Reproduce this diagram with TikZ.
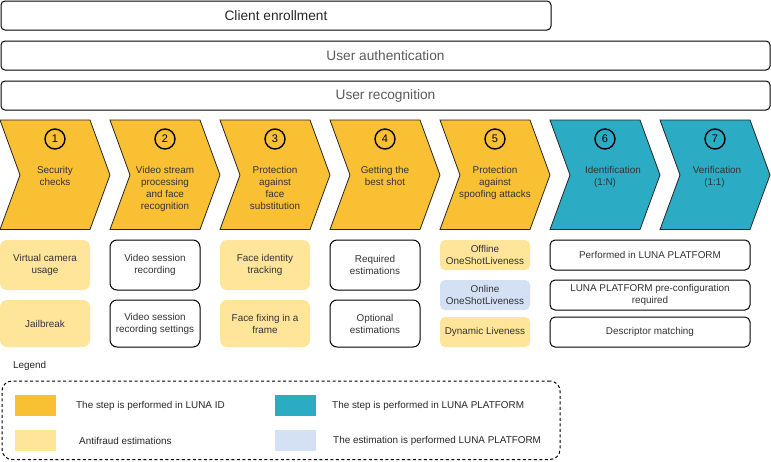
\documentclass[tikz,border=0pt]{standalone}
\usepackage{fontspec}
\setmainfont{Liberation Sans}
\definecolor{lunaid}{HTML}{F9C034}
\definecolor{lunapf}{HTML}{2BACC4}
\definecolor{antif}{HTML}{FFE599}
\definecolor{pfest}{HTML}{D4E1F5}
\definecolor{txt}{HTML}{333333}
\definecolor{bartxt}{HTML}{5A5A5A}
\begin{document}
\begin{tikzpicture}[x=1pt,y=-1pt,
  bar/.style={draw=black, line width=1pt, rounded corners=4pt, inner sep=0pt,
    minimum height=29pt, font=\fontsize{13.7}{16}\selectfont},
  chev/.style={draw=black!85, line width=0.8pt},
  num/.style={circle, draw=black, line width=1.4pt, minimum size=20pt, inner sep=0pt,
    font=\fontsize{11}{11}\selectfont},
  steptext/.style={anchor=north, inner sep=0pt, align=center, text=txt,
    font=\fontsize{9.9}{12}\selectfont},
  abox/.style={rounded corners=7pt, minimum width=90pt, inner sep=0pt, align=center,
    text=txt, font=\fontsize{9.9}{12}\selectfont},
  wbox/.style={abox, draw=black, line width=1pt, fill=white},
  ybox/.style={abox, fill=antif},
  sbox/.style={abox, rounded corners=5pt},
  widebox/.style={abox, rounded corners=5pt, minimum width=200pt, minimum height=30pt,
    draw=black, line width=1pt},
  swatch/.style={minimum width=41pt, minimum height=21pt, inner sep=0pt},
  legtext/.style={anchor=west, inner sep=0pt, text=black!85,
    font=\fontsize{9.9}{12}\selectfont}
]
\useasboundingbox (0,0) rectangle (771,461);

% top bars
\node[bar, minimum width=550pt, text=black!85] (enroll) at (276,15.5) {Client enrollment};
\node[bar, minimum width=769pt, text=bartxt] (auth) at (385.5,55.5) {User authentication};
\node[bar, minimum width=769pt, text=bartxt] (recog) at (385.5,95.5) {User recognition};

% chevrons
\foreach \x/\c in {0/lunaid,110/lunaid,220/lunaid,330/lunaid,440/lunaid,550/lunapf,660/lunapf}{
  \draw[chev, fill=\c] (\x,120) -- (\x+90,120) -- (\x+110,175) -- (\x+90,229.5)
     -- (\x,229.5) -- (\x+20,175) -- cycle;
}
\foreach \i/\x in {1/0,2/110,3/220,4/330,5/440,6/550,7/660}{
  \node[num] (n\i) at (\x+55,139) {\i};
}
\node[steptext] (s1) at (55,166.5) {Security\\checks};
\node[steptext] (s2) at (165,166.5) {Video stream\\processing\\and face\\recognition};
\node[steptext] (s3) at (275,166.5) {Protection\\against\\face\\substitution};
\node[steptext] (s4) at (385,166.5) {Getting the\\best shot};
\node[steptext] (s5) at (495,166.5) {Protection\\against\\spoofing attacks};
\node[steptext] (s6) at (613,166.5) {Identification\\(1:N)\hspace*{16pt}};
\node[steptext] (s7) at (717,166.5) {Verification\\(1:1)\hspace*{5pt}};

% column 1
\node[ybox, minimum height=50pt] (b11) at (45,265) {Virtual camera\\usage};
\node[ybox, minimum height=47pt] (b12) at (45,323.5) {Jailbreak};
% column 2
\node[wbox, minimum height=50pt] (b21) at (155,265) {Video session\\recording};
\node[wbox, minimum height=47pt] (b22) at (155,323.5) {Video session\\recording settings};
% column 3
\node[ybox, minimum height=50pt] (b31) at (265,265) {Face identity\\tracking};
\node[ybox, minimum height=47pt] (b32) at (265,323.5) {Face fixing in a\\frame};
% column 4
\node[wbox, minimum height=50pt] (b41) at (375,265) {Required\\estimations};
\node[wbox, minimum height=47pt] (b42) at (375,323.5) {Optional\\estimations};
% column 5
\node[sbox, fill=antif, minimum height=30pt] (b51) at (485,255) {Offline\\OneShotLiveness};
\node[sbox, fill=pfest, minimum height=30pt] (b52) at (485,295) {Online\\OneShotLiveness};
\node[sbox, fill=antif, minimum height=30pt] (b53) at (485,332) {Dynamic Liveness};
% wide boxes
\node[widebox] (w1) at (650,255) {Performed in LUNA PLATFORM};
\node[widebox] (w2) at (650,295) {LUNA PLATFORM pre-configuration\\required};
\node[widebox] (w3) at (650,332) {Descriptor matching};

% legend
\node[legtext] (legtitle) at (13,366) {Legend};
\node[draw=black, line width=1pt, dash pattern=on 3pt off 2.5pt, rounded corners=10pt,
  minimum width=558pt, minimum height=78.5pt, inner sep=0pt] (legbox) at (281,420.25) {};
\node[swatch, fill=lunaid] (sw1) at (35.5,405.5) {};
\node[swatch, fill=antif] (sw2) at (35.5,440.5) {};
\node[swatch, fill=lunapf] (sw3) at (295.5,405.5) {};
\node[swatch, fill=pfest] (sw4) at (295.5,440.5) {};
\node[legtext] (lt1) at (76,406) {The step is performed in LUNA ID};
\node[legtext] (lt2) at (79,441) {Antifraud estimations};
\node[legtext] (lt3) at (332,406) {The step is performed in LUNA PLATFORM};
\node[legtext] (lt4) at (333,441) {The estimation is performed LUNA PLATFORM};
\end{tikzpicture}
\end{document}
